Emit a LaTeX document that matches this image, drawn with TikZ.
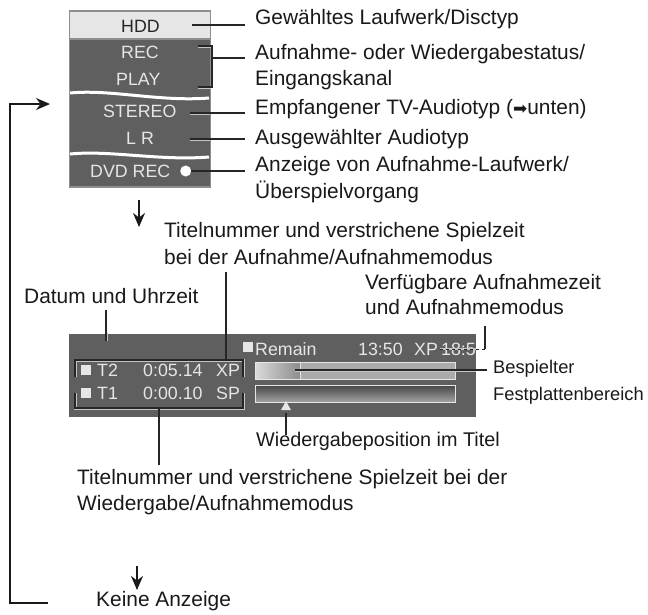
\documentclass[tikz,border=0pt]{standalone}
\usepackage{fontspec}
\setmainfont{Liberation Sans}
\usetikzlibrary{positioning}
\usetikzlibrary{arrows.meta}
\definecolor{paneldark}{HTML}{5F5F5F}
\definecolor{panelrim}{HTML}{8E8E8E}
\definecolor{panelink}{HTML}{E6E6E6}
\tikzset{
  lbl/.style={inner sep=0pt, font=\fontsize{20.9}{20.9}\selectfont, text=black!90},
  scr/.style={inner sep=0pt, font=\fontsize{17.8}{17.8}\selectfont, text=panelink},
  panel/.style={draw=panelrim, line width=1.2pt, fill=paneldark, inner sep=0pt},
  mark box/.style={fill=panelink, inner sep=0pt, minimum size=10pt},
  leader/.style={draw=black!85, line width=1.6pt},
  halo/.style={draw=panelink!75!paneldark, line width=3pt},
  flow/.style={draw=black!90, line width=1.7pt, -{Stealth[length=14pt,width=12pt]}},
  bar/.style={draw=panelink, line width=1pt, inner sep=0pt}
}
\begin{document}
\begin{tikzpicture}[x=1pt, y=-1pt]
  \useasboundingbox (0,0) rectangle (648,614);
  \coordinate (o) at (0,0);

  % top panel
  \node[panel, right = 69pt of o, yshift = -99pt, minimum width=141pt, minimum height=176pt] (P) {};
  \node[panel, fill=panelink, right = 69pt of o, yshift = -25pt, minimum width=141pt, minimum height=28pt] (Phdd) {};
  \node[scr, text=black!85, right = 121pt of o, yshift = -26pt] (hdd) {HDD};
  \node[scr, right = 121pt of o, yshift = -52pt] (rec) {REC};
  \node[scr, right = 116pt of o, yshift = -79pt] (play) {PLAY};
  \node[scr, right = 103pt of o, yshift = -111pt] (stereo) {STEREO};
  \node[scr, right = 126pt of o, yshift = -138pt] (lr) {L R};
  \node[scr, right = 90pt of o, yshift = -171pt] (dvd) {DVD REC};
  \node[circle, fill=white, inner sep=0pt, minimum size=11pt, right = 180pt of o, yshift = -171pt] (dot) {};
  % top panel waves
  \coordinate[right = 70pt of o, yshift = -93pt] (wa);
  \coordinate[right = 209pt of o, yshift = -98pt] (wb);
  \coordinate[right = 70pt of o, yshift = -154pt] (wc);
  \coordinate[right = 209pt of o, yshift = -157pt] (wd);
  \draw[draw=white, line width=3pt] (wa) .. controls (110,89) and (160,102) .. (wb);
  \draw[draw=white, line width=3pt] (wc) .. controls (110,150) and (160,161) .. (wd);

  % top panel tags
  \node[lbl, right = 255pt of o, yshift = -19pt] (t1) {Gewähltes Laufwerk/Disctyp};
  \node[lbl, right = 255pt of o, yshift = -54pt] (t2) {Aufnahme- oder Wiedergabestatus/};
  \node[lbl, right = 255pt of o, yshift = -80pt] (t2b) {Eingangskanal};
  \node[lbl, right = 255pt of o, yshift = -109pt] (t3) {Empfangener TV-Audiotyp ({\fontspec{DejaVu Sans}\fontsize{17}{17}\selectfont ➡}unten)};
  \node[lbl, right = 255pt of o, yshift = -139pt] (t4) {Ausgewählter Audiotyp};
  \node[lbl, right = 255pt of o, yshift = -166pt] (t5) {Anzeige von Aufnahme-Laufwerk/};
  \node[lbl, right = 255pt of o, yshift = -192pt] (t5b) {Überspielvorgang};

  % top panel leaders
  \coordinate[right = 192pt of o, yshift = -25pt] (a1);
  \coordinate[right = 245pt of o, yshift = -25pt] (a2);
  \coordinate[right = 198pt of o, yshift = -46pt] (b1);
  \coordinate[right = 212pt of o, yshift = -46pt] (b2);
  \coordinate[right = 212pt of o, yshift = -87pt] (b3);
  \coordinate[right = 198pt of o, yshift = -87pt] (b4);
  \coordinate[right = 212pt of o, yshift = -58pt] (b5);
  \coordinate[right = 245pt of o, yshift = -58pt] (b6);
  \coordinate[right = 190pt of o, yshift = -113pt] (c1);
  \coordinate[right = 210pt of o, yshift = -113pt] (c2);
  \coordinate[right = 245pt of o, yshift = -113pt] (c3);
  \coordinate[right = 190pt of o, yshift = -139pt] (d1);
  \coordinate[right = 210pt of o, yshift = -139pt] (d2);
  \coordinate[right = 245pt of o, yshift = -139pt] (d3);
  \coordinate[right = 245pt of o, yshift = -171pt] (e1);
  \draw[halo] (b1) -- (b2 -| P.east);
  \draw[halo] (b4) -- (b3 -| P.east);
  \draw[halo] (c1) -- (c2);
  \draw[halo] (d1) -- (d2);
  \draw[leader] (a1) -- (a2);
  \draw[leader] (b1) -- (b2) -- (b3) -- (b4);
  \draw[leader] (b5) -- (b6);
  \draw[leader] (c1) -- (c3);
  \draw[leader] (d1) -- (d3);
  \draw[leader] (dot) -- (e1);

  % flow arrows
  \coordinate[right = 139pt of o, yshift = -200pt] (f1);
  \coordinate[right = 139pt of o, yshift = -227pt] (f2);
  \coordinate[right = 137pt of o, yshift = -566pt] (f3);
  \coordinate[right = 137pt of o, yshift = -590pt] (f4);
  \coordinate[right = 48pt of o, yshift = -603pt] (r1);
  \coordinate[right = 10pt of o, yshift = -603pt] (r2);
  \coordinate[right = 10pt of o, yshift = -104pt] (r3);
  \coordinate[right = 50pt of o, yshift = -104pt] (r4);
  \draw[flow] (f1) -- (f2);
  \draw[flow] (f3) -- (f4);
  \draw[flow] (r1) -- (r2) -- (r3) -- (r4);
  \node[lbl, right = 96pt of o, yshift = -601pt] (none) {Keine Anzeige};

  % lower panel
  \node[panel, draw=none, right = 68pt of o, yshift = -375pt, minimum width=407pt, minimum height=83pt] (Q) {};
  \node[mark box, right = 243pt of o, yshift = -347pt] (mr) {};
  \node[scr, right = 255pt of o, yshift = -349pt] (remain) {Remain};
  \node[scr, right = 358pt of o, yshift = -349pt] (time) {13:50};
  \node[scr, right = 414pt of o, yshift = -349pt] (xp) {XP};
  \node[scr, right = 441pt of o, yshift = -349pt] (left) {18:5};
  \node[mark box, right = 81pt of o, yshift = -370pt] (m2) {};
  \node[scr, right = 97pt of o, yshift = -370pt] (t2name) {T2};
  \node[scr, right = 143pt of o, yshift = -370pt] (t2time) {0:05.14};
  \node[scr, right = 216pt of o, yshift = -370pt] (t2mode) {XP};
  \node[mark box, right = 81pt of o, yshift = -393pt] (m1) {};
  \node[scr, right = 97pt of o, yshift = -393pt] (t1name) {T1};
  \node[scr, right = 143pt of o, yshift = -393pt] (t1time) {0:00.10};
  \node[scr, right = 216pt of o, yshift = -393pt] (t1mode) {SP};
  % lower panel bars
  \node[bar, right = 255pt of o, yshift = -371pt, minimum width=200pt, minimum height=17pt, fill=black!33] (B1) {};
  \node[bar, right = 255pt of o, yshift = -394pt, minimum width=200pt, minimum height=17pt,
        top color=black!72, bottom color=black!35] (B2) {};
  \node[bar, right = 255pt of o, yshift = -371pt, minimum width=45pt, minimum height=17pt,
        left color=white!85!black, right color=black!45] (B1a) {};
  \coordinate[right = 286pt of o, yshift = -407pt] (tip);
  \fill[panelink] (tip) ++(0,-6) -- ++(5,9) -- ++(-10,0) -- cycle;

  % lower panel tags
  \node[lbl, right = 164pt of o, yshift = -232pt] (u1) {Titelnummer und verstrichene Spielzeit};
  \node[lbl, right = 164pt of o, yshift = -257pt] (u1b) {bei der Aufnahme/Aufnahmemodus};
  \node[lbl, right = 365pt of o, yshift = -284pt] (u2) {Verfügbare Aufnahmezeit};
  \node[lbl, right = 365pt of o, yshift = -307pt] (u2b) {und Aufnahmemodus};
  \node[lbl, right = 24pt of o, yshift = -296pt] (u3) {Datum und Uhrzeit};
  \node[lbl, font=\fontsize{18.3}{18.3}\selectfont, right = 493pt of o, yshift = -369pt] (u4) {Bespielter};
  \node[lbl, font=\fontsize{18.3}{18.3}\selectfont, right = 493pt of o, yshift = -396pt] (u4b) {Festplattenbereich};
  \node[lbl, font=\fontsize{19.8}{19.8}\selectfont, right = 256pt of o, yshift = -441pt] (u5) {Wiedergabeposition im Titel};
  \node[lbl, right = 77pt of o, yshift = -479pt] (u6) {Titelnummer und verstrichene Spielzeit bei der};
  \node[lbl, right = 77pt of o, yshift = -505pt] (u6b) {Wiedergabe/Aufnahmemodus};

  % lower panel leaders
  \coordinate[right = 106pt of o, yshift = -310pt] (g1);
  \coordinate[right = 106pt of o, yshift = -341pt] (g2);
  \coordinate[right = 226pt of o, yshift = -272pt] (h1);
  \coordinate[right = 226pt of o, yshift = -360pt] (h2);
  \coordinate[right = 75pt of o, yshift = -377pt] (i1);
  \coordinate[right = 75pt of o, yshift = -360pt] (i2);
  \coordinate[right = 243pt of o, yshift = -360pt] (i3);
  \coordinate[right = 243pt of o, yshift = -377pt] (i4);
  \coordinate[right = 75pt of o, yshift = -393pt] (j1);
  \coordinate[right = 75pt of o, yshift = -408pt] (j2);
  \coordinate[right = 243pt of o, yshift = -408pt] (j3);
  \coordinate[right = 243pt of o, yshift = -393pt] (j4);
  \coordinate[right = 159pt of o, yshift = -408pt] (k1);
  \coordinate[right = 159pt of o, yshift = -465pt] (k2);
  \coordinate[right = 295pt of o, yshift = -370pt] (l1);
  \coordinate[right = 487pt of o, yshift = -370pt] (l2);
  \coordinate[right = 286pt of o, yshift = -413pt] (n1);
  \coordinate[right = 286pt of o, yshift = -435pt] (n2);
  \coordinate[right = 485pt of o, yshift = -326pt] (s1);
  \coordinate[right = 485pt of o, yshift = -349pt] (s2);
  \coordinate[right = 440pt of o, yshift = -349pt] (s3);
  \draw[halo] (g2) -- (g2 |- Q.north);
  \draw[halo] (i1) -- (i2) -- (i3) -- (i4);
  \draw[halo] (j1) -- (j2) -- (j3) -- (j4);
  \draw[halo] (l1) -- (l2 -| Q.east);
  \draw[halo, line width=1.6pt] (s3) -- (s2 -| Q.east);
  \draw[leader] (g1) -- (g2);
  \draw[leader] (h1) -- (h2);
  \draw[leader, line width=1.2pt] (i1) -- (i2) -- (i3) -- (i4);
  \draw[leader, line width=1.2pt] (j1) -- (j2) -- (j3) -- (j4);
  \draw[leader] (k1) -- (k2);
  \draw[leader] (l1) -- (l2);
  \draw[leader] (n1) -- (n2);
  \draw[leader, line width=1.2pt] (s1) -- (s2);
  \draw[leader, line width=.8pt, dashed] (s2) -- (s3);
\end{tikzpicture}
\end{document}
